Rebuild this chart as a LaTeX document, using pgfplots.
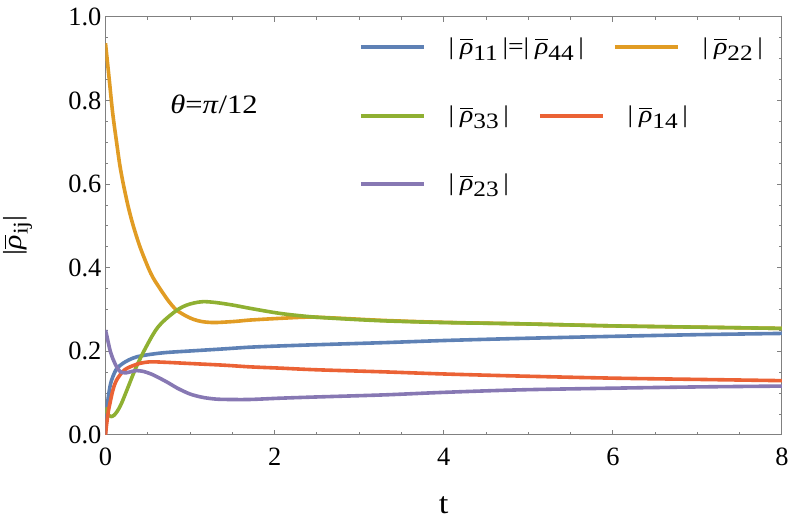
\documentclass[border=0pt]{standalone}
\usepackage{fontspec}
\setmainfont{Liberation Serif}[FakeStretch=1.15]
\newfontfamily\tickfont{Liberation Serif}
\usepackage{amsmath}
\usepackage{pgfplots}
\pgfplotsset{compat=1.18}

\definecolor{mblue}{RGB}{94,129,181}
\definecolor{morange}{RGB}{225,156,36}
\definecolor{mgreen}{RGB}{143,176,50}
\definecolor{mred}{RGB}{235,98,53}
\definecolor{mpurple}{RGB}{135,120,179}
\definecolor{framegray}{RGB}{128,128,128}

\newcommand{\rhob}{$\overline{\text{\itshape ρ}}$}
\newcommand{\rb}[1]{|\hspace{0.25em}\rhob\raisebox{-0.25em}{\fontsize{11}{11}\selectfont #1}\hspace{0.2em}|}

\pgfplotsset{
  mstyle/.style={
    width=338.25pt, height=209pt, scale only axis,
    xmin=0, xmax=8, ymin=0, ymax=1,
  },
  legrow/.style={
    mstyle, hide axis,
    legend columns=-1,
    legend style={at={(#1)}, anchor=west, draw=none, fill=none,
      inner sep=0pt, outer sep=0pt,
      cells={anchor=west},
      nodes={inner sep=0pt},
      font=\fontsize{12}{14}\selectfont,
      /tikz/every odd column/.style={column sep=11.5pt},
      /tikz/every even column/.style={column sep=14.5pt}},
    legend image code/.code={\draw[##1, line width=1.8pt] (0pt,0pt) -- (31.5pt,0pt);},
  },
}

\begin{document}
\begin{tikzpicture}
\useasboundingbox (-52.75pt,-47pt) rectangle (343.75pt,217.5pt);
\begin{axis}[mstyle, name=main,
  axis line style={draw=framegray, line width=0.5pt},
  tick style={draw=framegray, line width=0.5pt},
  tick align=inside,
  major tick length=2.5pt, minor tick length=1.5pt,
  xtick={0,2,4,6,8}, minor x tick num=3,
  ytick={0,0.2,0.4,0.6,0.8,1}, minor y tick num=3,
  /pgf/number format/assume math mode=true,
  tick label style={font=\tickfont\fontsize{13.2}{14}\selectfont, text=black},
  xticklabel style={yshift=-3pt},
  yticklabel style={xshift=1.5pt, /pgf/number format/.cd, fixed, fixed zerofill, precision=1},
  xlabel={t},
  ylabel={|\rhob\raisebox{-0.25em}{\fontsize{10.5}{10.5}\selectfont ij}|},
  every axis x label/.style={at={(rel axis cs:0.5,0)}, anchor=base, yshift=-39.5pt, font=\fontsize{15}{15}\selectfont},
  every axis y label/.style={at={(rel axis cs:0,0.478)}, rotate=90, anchor=center, yshift=44pt, font=\fontsize{13}{14}\selectfont},
  every axis plot/.append style={line width=1.8pt, line join=round, smooth, tension=0.5},
]
% |rho11| = |rho44|
\addplot[mblue] coordinates {
(0,0) (0.012,0.045) (0.024,0.076) (0.04,0.100) (0.053,0.116) (0.07,0.130)
(0.09,0.141) (0.124,0.156) (0.17,0.166) (0.21,0.172) (0.28,0.180) (0.37,0.187)
(0.5,0.192) (0.7,0.197) (1.0,0.201) (1.4,0.206) (1.7,0.210) (2.06,0.213)
(2.5,0.216) (3.3,0.221) (4,0.226) (4.9,0.231) (6,0.236) (7,0.240) (8,0.243)
};
% |rho22|
\addplot[morange] coordinates {
(0,0.937) (0.02,0.898) (0.045,0.849) (0.085,0.770) (0.132,0.699) (0.17,0.645)
(0.211,0.600) (0.27,0.545) (0.329,0.500) (0.408,0.450) (0.506,0.400) (0.566,0.375)
(0.645,0.350) (0.74,0.322) (0.834,0.300) (0.95,0.285) (1.05,0.276) (1.15,0.271)
(1.275,0.269) (1.4,0.270) (1.55,0.272) (1.71,0.275) (2.06,0.279) (2.42,0.282)
(2.8,0.279) (3.3,0.274) (4,0.2695) (4.9,0.266) (6,0.261) (7,0.258) (8,0.255)
};
% |rho33|
\addplot[mgreen] coordinates {
(0,0.066) (0.02,0.053) (0.045,0.046) (0.073,0.044) (0.1,0.047) (0.14,0.057)
(0.19,0.076) (0.27,0.116) (0.349,0.156) (0.44,0.195) (0.546,0.235) (0.62,0.258)
(0.70,0.275) (0.84,0.298) (0.95,0.310) (1.05,0.316) (1.157,0.319) (1.3,0.317)
(1.5,0.311) (1.71,0.303) (2.06,0.291) (2.42,0.283) (2.8,0.278) (3.3,0.273)
(4,0.269) (4.9,0.266) (6,0.261) (7,0.258) (8,0.255)
};
% |rho14|
\addplot[mred] coordinates {
(0,0) (0.01,0.02) (0.02,0.036) (0.035,0.058) (0.053,0.076) (0.075,0.097)
(0.10,0.116) (0.13,0.131) (0.171,0.1435) (0.22,0.155) (0.29,0.163) (0.4,0.171)
(0.526,0.175) (0.7,0.174) (1.0,0.171) (1.4,0.167) (1.71,0.163) (2.06,0.160)
(2.5,0.156) (3.3,0.151) (4,0.146) (4.9,0.141) (6,0.136) (7,0.133) (8,0.130)
};
% |rho23|
\addplot[mpurple] coordinates {
(0,0.251) (0.015,0.238) (0.03,0.224) (0.047,0.208) (0.065,0.195) (0.09,0.181)
(0.112,0.171) (0.15,0.157) (0.19,0.150) (0.25,0.149) (0.31,0.152) (0.37,0.154)
(0.45,0.152) (0.55,0.145) (0.65,0.135) (0.75,0.124) (0.85,0.112) (1.0,0.098)
(1.15,0.090) (1.3,0.086) (1.45,0.085) (1.71,0.085) (2.06,0.088) (2.5,0.091)
(3.3,0.096) (4,0.102) (4.9,0.108) (6,0.112) (7,0.115) (8,0.117)
};
\node[font=\fontsize{13.3}{14}\selectfont] at (axis cs:1.283,0.792) {\textit{θ}=\textit{π}/12};
\end{axis}

\begin{axis}[legrow={0.3747,0.9275}]
\addlegendimage{mblue}
\addlegendentry{\rb{11}=\rb{44}}
\addlegendimage{morange}
\addlegendentry{\rb{22}}
\end{axis}
\begin{axis}[legrow={0.3747,0.763}]
\addlegendimage{mgreen}
\addlegendentry{\rb{33}}
\addlegendimage{mred}
\addlegendentry{\rb{14}}
\end{axis}
\begin{axis}[legrow={0.3747,0.6005}]
\addlegendimage{mpurple}
\addlegendentry{\rb{23}}
\end{axis}
\end{tikzpicture}
\end{document}
